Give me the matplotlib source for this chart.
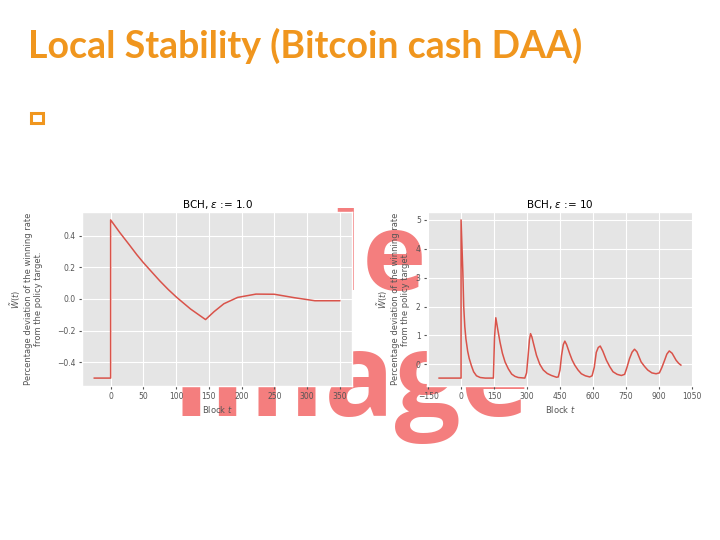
import matplotlib
matplotlib.use("Agg")
import matplotlib.pyplot as plt
from matplotlib.patches import Rectangle

plt.style.use("ggplot")

# --- BCH, eps = 1.0 ---
t_eps1 = [-25, 0, 0, 14, 29, 40, 50, 63, 75, 88, 101, 122, 145,
          158, 173, 194, 222, 250, 281, 312, 350]
w_eps1 = [-0.5, -0.5, 0.5, 0.42, 0.34, 0.28, 0.23, 0.17, 0.115, 0.06, 0.01,
          -0.063, -0.13, -0.08, -0.03, 0.01, 0.031, 0.03, 0.008, -0.011, -0.011]

# --- BCH, eps = 10 ---
t_eps10 = [-100, 0, 0, 8, 12, 17, 22, 30, 37, 47, 57, 70, 87, 110, 147,
           152, 158, 167, 177, 188, 200, 215, 230, 245, 260, 290,
           298, 305, 311, 316, 322, 330, 343, 358, 374, 392, 411, 434,
           442, 450, 457, 465, 472, 480, 494, 505, 517, 532, 547, 565, 585,
           596, 606, 615, 624, 633, 645, 661, 676, 691, 710, 729,
           744, 755, 766, 778, 789, 800, 819, 835, 849, 868, 887,
           902, 913, 925, 936, 947, 960, 978, 990, 1000]
w_eps10 = [-0.48, -0.48, 5.0, 3.2, 2.0, 1.3, 0.88, 0.45, 0.2, -0.05, -0.26, -0.4, -0.46, -0.48, -0.48,
           0.9, 1.61, 1.2, 0.77, 0.38, 0.08, -0.16, -0.34, -0.42, -0.46, -0.48,
           -0.3, 0.3, 0.85, 1.06, 0.95, 0.7, 0.31, 0.0, -0.2, -0.32, -0.39, -0.45,
           -0.44, -0.2, 0.3, 0.68, 0.8, 0.68, 0.37, 0.15, -0.03, -0.2, -0.33, -0.4, -0.44,
           -0.40, -0.1, 0.41, 0.58, 0.63, 0.45, 0.14, -0.08, -0.26, -0.35, -0.39,
           -0.35, -0.1, 0.19, 0.42, 0.52, 0.43, 0.08, -0.08, -0.2, -0.3, -0.33,
           -0.3, -0.12, 0.12, 0.35, 0.46, 0.38, 0.14, 0.03, -0.03]

xticks_eps1 = [0, 50, 100, 150, 200, 250, 300, 350]
yticks_eps1 = [-0.4, -0.2, 0.0, 0.2, 0.4]
xticks_eps10 = [-150, 0, 150, 300, 450, 600, 750, 900, 1050]
yticks_eps10 = [0, 1, 2, 3, 4, 5]

ylab = "$\\tilde{W}(t)$\nPercentage deviation of the winning rate\nfrom the policy target."
orange = "#F0961E"
wm_color = "#F47E7E"

fig = plt.figure(figsize=(7.2, 5.4), dpi=100)
fig.patch.set_facecolor("white")

W, H = 720.0, 540.0

# slide title + bullet
fig.text(28 / W, 1 - 58 / H, "Local Stability (Bitcoin cash DAA)", color=orange,
         fontsize=27, fontweight="bold", family="Lato", ha="left", va="baseline")
fig.patches.append(Rectangle((31 / W, 1 - 123 / H), 12 / W, 10 / H, fill=False,
                             edgecolor=orange, linewidth=2.2, transform=fig.transFigure))

# watermark behind the pasted plots
fig.text(426 / W, 1 - 290 / H, "Sample", color=wm_color, fontsize=78, fontweight="bold",
         family="Open Sans", ha="right", va="baseline", zorder=-5)
fig.text(172 / W, 1 - 416 / H, "Image", color=wm_color, fontsize=84, fontweight="bold",
         family="Open Sans", ha="left", va="baseline", zorder=-5)
# opaque white part of the left picture (label area)
fig.patches.append(Rectangle((0, 1 - 300 / H), 84 / W, 115 / H, facecolor="white",
                             edgecolor="none", zorder=-4, transform=fig.transFigure))

ax1 = fig.add_axes([82 / W, 1 - 386 / H, 270 / W, 174 / H])
ax2 = fig.add_axes([427 / W, 1 - 386 / H, 266 / W, 174 / H])

for ax, t, w, xt, yt, ttl, pad in [
        (ax1, t_eps1, w_eps1, xticks_eps1, yticks_eps1, "BCH, $\\varepsilon$ := 1.0", 10),
        (ax2, t_eps10, w_eps10, xticks_eps10, yticks_eps10, "BCH, $\\varepsilon$ := 10", 4)]:
    ax.plot(t, w, color="#D9534A", linewidth=1.1)
    ax.set_xticks(xt)
    ax.set_yticks(yt)
    ax.tick_params(labelsize=5.5, length=2.5, colors="#555555", pad=2)
    ax.set_title(ttl, fontsize=7.5, pad=3, color="black")
    ax.set_xlabel("Block $t$", fontsize=6, color="#555555", labelpad=2)
    ax.set_ylabel(ylab, fontsize=6, color="#555555", labelpad=pad, linespacing=1.2)

ax1.set_yticklabels(["\u22120.4", "\u22120.2", "0.0", "0.2", "0.4"])
ax2.set_xticklabels(["\u2212150", "0", "150", "300", "450", "600", "750", "900", "1050"])

plt.savefig("out.png", dpi=100, facecolor="white")
